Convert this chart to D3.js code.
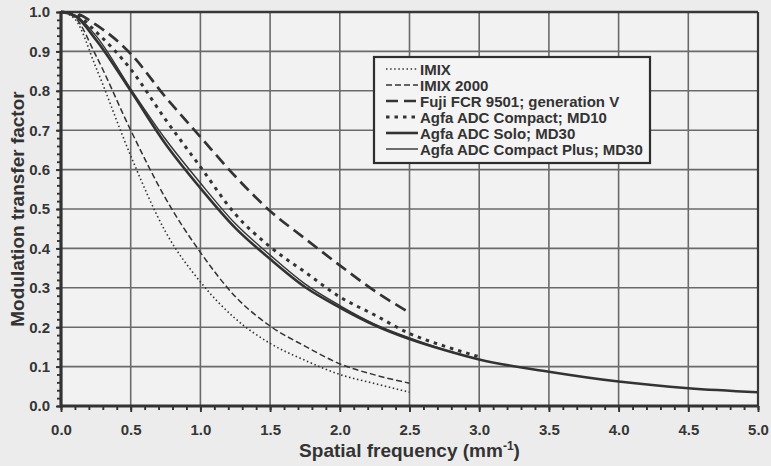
<!DOCTYPE html>
<html>
<head>
<meta charset="utf-8">
<script src="https://cdn.jsdelivr.net/npm/d3@7"></script>
<style>
  html, body { margin: 0; padding: 0; background: #ececec; }
  svg { display: block; font-family: "Liberation Sans", Arial, sans-serif; }
</style>
</head>
<body>
<svg id="chart" width="771" height="466"></svg>
<script>
// Spatial frequency samples (mm^-1)
const freqShort = [0, 0.1, 0.25, 0.5, 0.75, 1.0, 1.25, 1.5, 1.75, 2.0, 2.25, 2.5];
const freqMid   = [0, 0.1, 0.25, 0.5, 0.75, 1.0, 1.25, 1.5, 1.75, 2.0, 2.25, 2.5, 2.75, 3.0];
const freqLong  = [0, 0.1, 0.25, 0.5, 0.75, 1.0, 1.25, 1.5, 1.75, 2.0, 2.25, 2.5, 2.75, 3.0, 3.5, 4.0, 4.5, 5.0];

// Modulation transfer factor per system
const mtfImix        = [1.0, 0.982, 0.86, 0.635, 0.442, 0.315, 0.222, 0.159, 0.116, 0.080, 0.057, 0.035];
const mtfImix2000    = [1.0, 0.986, 0.89, 0.700, 0.527, 0.390, 0.278, 0.203, 0.152, 0.107, 0.079, 0.058];
const mtfFuji        = [1.0, 0.997, 0.968, 0.894, 0.784, 0.683, 0.583, 0.495, 0.425, 0.357, 0.292, 0.237];
const mtfCompactMD10 = [1.0, 0.995, 0.95, 0.855, 0.727, 0.607, 0.487, 0.404, 0.340, 0.277, 0.231, 0.184, 0.152, 0.125];
const mtfSoloMD30    = [1.0, 0.99, 0.93, 0.800, 0.665, 0.553, 0.452, 0.373, 0.302, 0.250, 0.205, 0.170, 0.142, 0.118, 0.087, 0.062, 0.045, 0.035];
const mtfPlusMD30    = [1.0, 0.992, 0.94, 0.805, 0.677, 0.566, 0.463, 0.383, 0.310, 0.255, 0.208, 0.173, 0.143, 0.118];

const seriesNames = [
  "IMIX",
  "IMIX 2000",
  "Fuji FCR 9501; generation V",
  "Agfa ADC Compact; MD10",
  "Agfa ADC Solo; MD30",
  "Agfa ADC Compact Plus; MD30"
];

const xTicks = [0, 0.5, 1.0, 1.5, 2.0, 2.5, 3.0, 3.5, 4.0, 4.5, 5.0];
const yTicks = [0, 0.1, 0.2, 0.3, 0.4, 0.5, 0.6, 0.7, 0.8, 0.9, 1.0];

const series = [
  { name: seriesNames[0], x: freqShort, y: mtfImix,        width: 1.6, dash: "1.5,2.6" },
  { name: seriesNames[1], x: freqShort, y: mtfImix2000,    width: 1.5, dash: "6,3" },
  { name: seriesNames[2], x: freqShort, y: mtfFuji,        width: 2.7, dash: "12,6" },
  { name: seriesNames[3], x: freqMid,   y: mtfCompactMD10, width: 3.0, dash: "3.5,5" },
  { name: seriesNames[4], x: freqLong,  y: mtfSoloMD30,    width: 2.6, dash: null },
  { name: seriesNames[5], x: freqMid,   y: mtfPlusMD30,    width: 1.4, dash: null }
];

const svg = d3.select("#chart");
const ink = "#333";
const margin = { left: 61, right: 13, top: 12, bottom: 60 };
const W = 771, H = 466;

const x = d3.scaleLinear().domain([0, 5]).range([margin.left, W - margin.right]);
const y = d3.scaleLinear().domain([0, 1]).range([H - margin.bottom, margin.top]);

// plot area
svg.append("rect")
  .attr("x", x(0)).attr("y", y(1))
  .attr("width", x(5) - x(0)).attr("height", y(0) - y(1))
  .attr("fill", "#f2f2f2");

// grid
const grid = svg.append("g").attr("stroke", "#6a6a6a").attr("stroke-width", 1.6);
grid.selectAll("line.v").data(xTicks.slice(1, -1)).join("line")
  .attr("x1", d => x(d)).attr("x2", d => x(d))
  .attr("y1", y(0)).attr("y2", y(1));
grid.selectAll("line.h").data(yTicks.slice(1, -1)).join("line")
  .attr("x1", x(0)).attr("x2", x(5))
  .attr("y1", d => y(d)).attr("y2", d => y(d));

// frame: top and right
svg.append("line").attr("x1", x(0)).attr("x2", x(5)).attr("y1", y(1)).attr("y2", y(1))
  .attr("stroke", "#383838").attr("stroke-width", 2.6);
svg.append("line").attr("x1", x(5)).attr("x2", x(5)).attr("y1", y(1)).attr("y2", y(0))
  .attr("stroke", "#383838").attr("stroke-width", 2.2);

// axes
const xAxis = d3.axisBottom(x).tickValues(xTicks).tickFormat(d3.format(".1f")).tickSize(6).tickPadding(12);
const yAxis = d3.axisLeft(y).tickValues(yTicks).tickFormat(d3.format(".1f")).tickSize(5).tickPadding(6);
const xMinor = d3.axisBottom(x).tickValues(d3.range(0, 50.5, 1).map(d => d / 10)).tickFormat("").tickSize(4);
const yMinor = d3.axisLeft(y).tickValues(d3.range(0, 50.5, 1).map(d => d / 50)).tickFormat("").tickSize(4);

function styleAxis(g) {
  g.select(".domain").remove();
  g.selectAll("line").attr("stroke", ink).attr("stroke-width", 1.9);
  g.selectAll("text").attr("fill", "#363636").attr("font-size", 15).attr("font-weight", "bold");
}
svg.append("g").attr("transform", `translate(0,${y(0)})`).call(xMinor).call(styleAxis);
svg.append("g").attr("transform", `translate(${x(0)},0)`).call(yMinor).call(styleAxis);
svg.append("g").attr("transform", `translate(0,${y(0)})`).call(xAxis).call(styleAxis);
svg.append("g").attr("transform", `translate(${x(0)},0)`).call(yAxis).call(styleAxis);

// thick left and bottom axis lines
svg.append("line").attr("x1", x(0)).attr("x2", x(5)).attr("y1", y(0)).attr("y2", y(0))
  .attr("stroke", ink).attr("stroke-width", 3.2);
svg.append("line").attr("x1", x(0)).attr("x2", x(0)).attr("y1", y(1) - 1).attr("y2", y(0) + 1.5)
  .attr("stroke", ink).attr("stroke-width", 3.2);

// curves
const line = d3.line().x(d => x(d[0])).y(d => y(d[1])).curve(d3.curveMonotoneX);
svg.append("g").selectAll("path").data(series).join("path")
  .attr("d", s => line(s.x.map((f, i) => [f, s.y[i]])))
  .attr("fill", "none")
  .attr("stroke", ink)
  .attr("stroke-width", s => s.width)
  .attr("stroke-dasharray", s => s.dash);

// legend
const lg = svg.append("g");
lg.append("rect").attr("x", 374).attr("y", 57).attr("width", 276).attr("height", 106)
  .attr("fill", "#f4f4f4").attr("stroke", "#2e2e2e").attr("stroke-width", 2.2);
const rows = lg.selectAll("g.row").data(series).join("g")
  .attr("transform", (d, i) => `translate(0,${69 + i * 16})`);
rows.append("line").attr("x1", 386).attr("x2", 418).attr("y1", 0).attr("y2", 0)
  .attr("stroke", ink)
  .attr("stroke-width", s => s.width)
  .attr("stroke-dasharray", s => s.dash);
rows.append("text").attr("x", 420).attr("y", 5.5)
  .attr("font-size", 15).attr("font-weight", "bold").attr("fill", "#333")
  .text(s => s.name);

// axis titles
svg.append("text")
  .attr("transform", `translate(24,${(y(0) + y(1)) / 2}) rotate(-90)`)
  .attr("text-anchor", "middle")
  .attr("font-size", 19).attr("font-weight", "bold").attr("fill", "#333")
  .text("Modulation transfer factor");

const xt = svg.append("text")
  .attr("x", (x(0) + x(5)) / 2).attr("y", 457)
  .attr("text-anchor", "middle")
  .attr("font-size", 19).attr("font-weight", "bold").attr("fill", "#333");
xt.append("tspan").text("Spatial frequency (mm");
xt.append("tspan").attr("dy", -7).attr("font-size", 12).text("-1");
xt.append("tspan").attr("dy", 7).text(")");
</script>
</body>
</html>
